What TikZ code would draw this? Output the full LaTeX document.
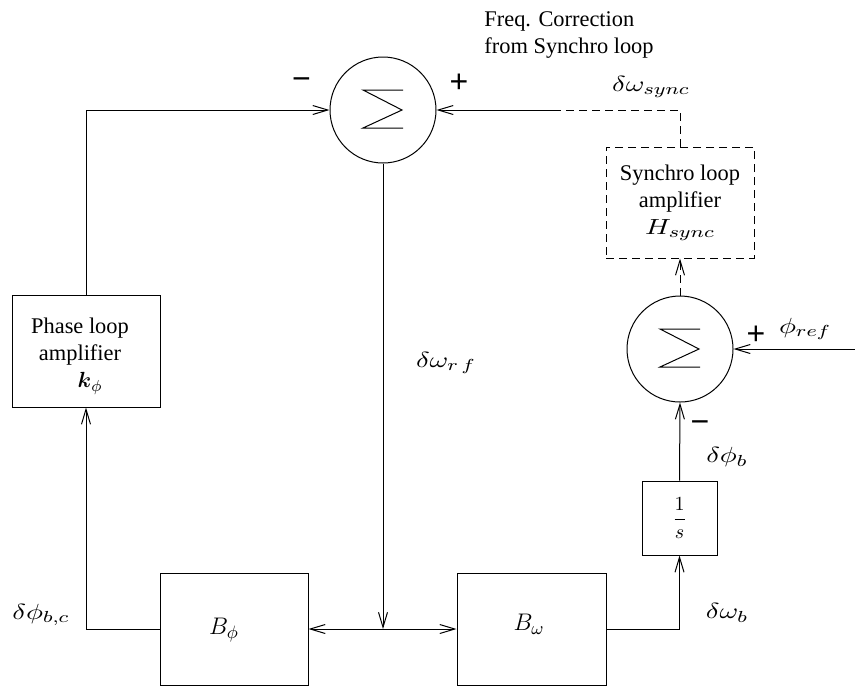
\documentclass[tikz,border=0pt]{standalone}
\usepackage{amsmath}
\usepackage{graphicx}
\usepackage{fontspec}
\setmainfont{Liberation Serif}
\newfontfamily\signfont{Liberation Sans}
\usetikzlibrary{arrows.meta}
\newcommand\wmath[2][1.3]{\scalebox{#1}[1]{$#2$}}
\begin{document}
\begin{tikzpicture}[x=0.5pt,y=-0.5pt,
  line/.style={line width=0.5pt},
  sig/.style={line, -{Straight Barb[length=7.5pt,width=4.5pt]}},
  dashline/.style={line, dash pattern=on 4pt off 2.5pt},
  block/.style={draw, line width=0.5pt, rectangle, inner sep=0pt},
  dashbox/.style={block, dash pattern=on 4pt off 2.5pt},
  sumnode/.style={draw, circle, line width=0.5pt, minimum size=53pt, inner sep=0pt},
  txt/.style={font=\fontsize{11.2}{13.5}\selectfont, inner sep=0pt},
  lbl/.style={font=\fontsize{11}{13}\selectfont, inner sep=0pt},
  mathlbl/.style={font=\fontsize{13}{15}\selectfont, inner sep=0pt},
  fraclbl/.style={font=\fontsize{10}{12}\selectfont, inner sep=0pt},
  sign/.style={font=\signfont\fontsize{16}{16}\selectfont, inner sep=0pt},
  sigmasym/.pic={\draw[line width=0.5pt] (20,-20) -- (-20,-20) -- (19,0) -- (-20,18) -- (20,18);}
]
\useasboundingbox (0,0) rectangle (855,687);

% summing junctions
\node[sumnode] (s1) at (383,110) {};
\pic at (s1.center) {sigmasym};
\node[sumnode] (s2) at (680,349) {};
\pic at (s2.center) {sigmasym};

% blocks
\node[block, minimum width=74pt, minimum height=56pt] (phase) at (86,351) {};
\node[txt, align=center] (phasetxt) at (80,356) {Phase loop\\amplifier\\\hspace*{10pt}$\boldsymbol{k}_{\phi}$};
\node[dashbox, minimum width=74pt, minimum height=55.5pt, txt, align=center] (sync) at (680,202.5) {Synchro loop\\amplifier\\\wmath[1.3]{H_{sync}}};
\node[block, minimum width=74pt, minimum height=56pt] (Bphi) at (234,629) {};
\node[mathlbl] (Bphitxt) at (224,630) {$B_{\phi}$};
\node[block, minimum width=74.5pt, minimum height=56pt] (Bw) at (531.5,629) {};
\node[mathlbl] (Bwtxt) at (529,624) {$B_{\omega}$};
\node[block, minimum width=37.5pt, minimum height=37pt, fraclbl] (integ) at (679.5,518) {$\dfrac{1}{s}$};

% labels
\node[txt, align=left, anchor=west] (freq) at (484,35) {Freq. Correction\\from Synchro loop};
\node[lbl] (lsync) at (651,87) {\wmath{\delta\omega_{sync}}};
\node[lbl] (lrf) at (446,363) {\wmath{\delta\omega_{r\,f}}};
\node[lbl] (lbc) at (41,615) {\wmath{\delta\phi_{b,c}}};
\node[lbl] (lwb) at (727,613) {\wmath{\delta\omega_{b}}};
\node[lbl] (lpb) at (727,457) {\wmath{\delta\phi_{b}}};
\node[lbl] (lref) at (805,329) {\wmath{\phi_{ref}}};
\node[sign] (m1) at (301.5,83.5) {−};
\node[sign] (p1) at (459,83.5) {+};
\node[sign] (p2) at (756,335) {+};
\node[sign] (m2) at (700,427) {−};

% connectors
\coordinate (j) at (383,629);
\coordinate (m) at (553,110);
\coordinate (inref) at (855,349);
\draw[sig] (Bphi.west) -| (phase.south);
\draw[sig] (phase.north) |- (s1.west);
\draw[sig] (s1.south) -- (j);
\draw[sig] (j) -- (Bphi.east);
\draw[sig] (j) -- (Bw.west);
\draw[sig] (Bw.east) -| (integ.south);
\draw[sig] (integ.north) -- (s2.south);
\draw[sig] (inref) -- (s2.east);
\draw[sig, dashline] (s2.north) -- (sync.south);
\draw[dashline] (sync.north) |- (m);
\draw[sig] (m) -- (s1.east);
\end{tikzpicture}
\end{document}
